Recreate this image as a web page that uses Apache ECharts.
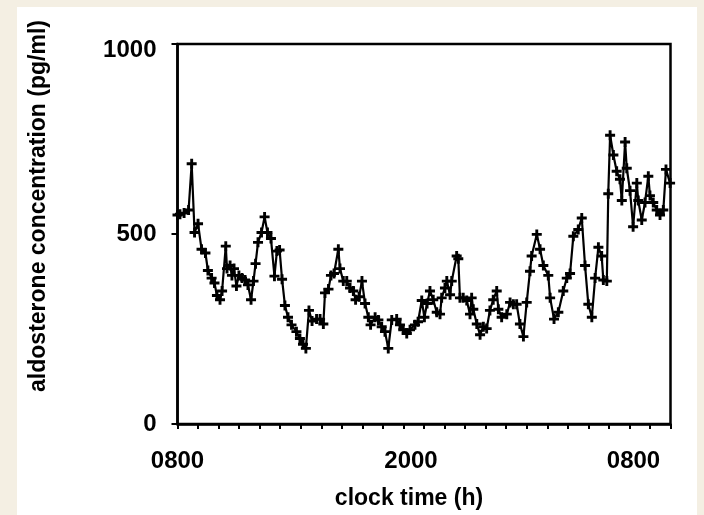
<!DOCTYPE html>
<html>
<head>
<meta charset="utf-8">
<script src="https://cdn.jsdelivr.net/npm/echarts@6/dist/echarts.min.js"></script>
<style>
html,body{margin:0;padding:0;background:#f4efe3;}
#c{width:704px;height:515px;}
</style>
</head>
<body>
<div id="c"></div>
<script>
// hours after 0800 (clock time) of each sample
const hours = [0.00,0.12,0.32,0.54,0.69,0.83,1.00,1.17,1.36,1.48,1.66,1.80,1.92,2.07,2.17,2.35,2.41,2.56,2.65,2.75,
  2.87,2.99,3.14,3.29,3.43,3.58,3.70,3.80,3.92,4.09,4.24,4.38,4.55,4.72,4.84,4.97,5.09,5.23,5.38,5.55,
  5.79,5.96,6.11,6.25,6.40,6.55,6.77,6.94,7.10,7.18,7.35,7.47,7.62,7.83,7.91,8.07,8.24,8.40,8.56,8.67,
  8.84,8.98,9.13,9.29,9.40,9.62,9.78,9.94,10.10,10.26,10.43,10.67,10.83,10.99,11.16,11.32,11.56,11.71,11.89,12.02,
  12.15,12.29,12.45,12.62,12.78,12.86,13.02,13.11,13.27,13.35,13.59,13.67,13.75,13.91,14.08,14.24,14.32,14.40,14.57,14.73,
  14.89,15.05,15.21,15.37,15.54,15.62,15.78,16.03,16.19,16.35,16.51,16.67,16.84,17.00,17.16,17.24,17.49,17.65,17.81,18.05,
  18.14,18.33,18.54,18.78,18.95,19.11,19.27,19.51,19.68,19.84,20.00,20.17,20.33,20.49,20.65,20.73,20.90,20.97,21.06,21.22,
  21.38,21.54,21.63,21.79,21.87,22.03,22.18,22.36,22.43,22.60,22.76,22.92,23.00,23.16,23.33,23.49,23.65,23.78,23.98];
// aldosterone concentration (pg/ml)
const aldosterone = [550,552,555,563,685,504,527,460,450,404,384,371,338,327,350,468,409,417,391,409,
  363,391,384,379,366,327,376,422,478,504,545,504,488,389,455,458,381,312,281,261,
  243,225,210,199,299,271,276,276,263,345,355,391,396,460,409,376,376,358,350,327,
  335,376,317,281,261,281,274,256,243,199,274,276,261,248,238,248,261,269,325,281,
  317,350,327,294,289,332,358,376,340,376,442,435,332,332,325,289,332,302,263,235,
  256,251,299,327,350,302,281,289,320,315,315,263,230,320,402,442,499,460,417,391,
  332,276,294,350,384,396,494,512,542,417,315,281,384,465,442,379,376,606,760,708,
  665,644,588,742,673,614,519,634,588,537,583,652,601,583,563,550,563,670,634];
// x tick labels
const xLabelHours = [0, 12, 24];
const xLabelText = ['0800', '2000', '0800'];
const yLabelValues = [0, 500, 1000];

const chart = echarts.init(document.getElementById('c'), null, {renderer: 'canvas'});
const FONT = 'Liberation Sans';
const plus = 'path://M3,0h2.6v3.2h3.2v2.6h-3.2v3.2h-2.6v-3.2h-3.2v-2.6h3.2z';
const lbl = {fontFamily: FONT, fontSize: 24, fontWeight: 'bold', color: '#000'};

chart.setOption({
  backgroundColor: '#f4efe3',
  animation: false,
  graphic: [{type: 'rect', z: -10, shape: {x: 17, y: 7, width: 680, height: 508}, style: {fill: '#ffffff'}}],
  grid: {left: 177.5, right: 33.5, top: 44, bottom: 80, show: true, borderColor: '#000', borderWidth: 2.5, backgroundColor: 'transparent'},
  xAxis: {
    type: 'value', min: 0, max: 24, interval: 1,
    name: 'clock time (h)', nameLocation: 'middle', nameGap: 63, nameMoveOverlap: false,
    nameTextStyle: {fontFamily: FONT, fontSize: 23, fontWeight: 'bold', color: '#000', padding: [0, 30, 0, 0]},
    axisLine: {show: true, lineStyle: {color: '#000', width: 2.5}},
    axisTick: {show: true, inside: false, length: 5, lineStyle: {color: '#000', width: 2}},
    splitLine: {show: false},
    axisLabel: {
      show: true, margin: 25, interval: 0, showMinLabel: true, showMaxLabel: true,
      fontFamily: FONT, fontSize: 24, fontWeight: 'bold', color: '#000',
      formatter: function (v) {
        const i = xLabelHours.indexOf(v);
        if (i < 0) return '';
        if (i === 1) return '{m|' + xLabelText[i] + '}';
        if (i === 2) return '{r|' + xLabelText[i] + '}';
        return '{l|' + xLabelText[i] + '}';
      },
      rich: {
        l: lbl,
        m: Object.assign({}, lbl, {padding: [0, 26, 0, 0]}),
        r: Object.assign({}, lbl, {padding: [0, 74, 0, 0]})
      }
    }
  },
  yAxis: {
    type: 'value', min: 0, max: 1000, interval: 500,
    name: 'aldosterone concentration (pg/ml)', nameLocation: 'middle', nameGap: 127, nameRotate: 90, nameMoveOverlap: false,
    nameTextStyle: {fontFamily: FONT, fontSize: 23, fontWeight: 'bold', color: '#000', padding: [0, 0, 0, 56]},
    axisLine: {show: true, lineStyle: {color: '#000', width: 2.5}},
    axisTick: {show: true, inside: false, length: 6, lineStyle: {color: '#000', width: 2}},
    splitLine: {show: false},
    axisLabel: {
      margin: 21, fontFamily: FONT, fontSize: 24, fontWeight: 'bold', color: '#000',
      formatter: function (v) {
        if (yLabelValues.indexOf(v) < 0) return '';
        if (v === 1000) return '{t|' + v + '}';
        return '{n|' + v + '}';
      },
      rich: {
        n: lbl,
        t: Object.assign({}, lbl, {padding: [12, 0, 0, 0]})
      }
    }
  },
  series: [{
    type: 'line',
    data: hours.map((h, i) => [h, aldosterone[i]]),
    symbol: plus, symbolSize: [10, 10], showAllSymbol: true,
    itemStyle: {color: '#000'},
    lineStyle: {color: '#000', width: 2.2},
    clip: false
  }]
});
</script>
</body>
</html>
